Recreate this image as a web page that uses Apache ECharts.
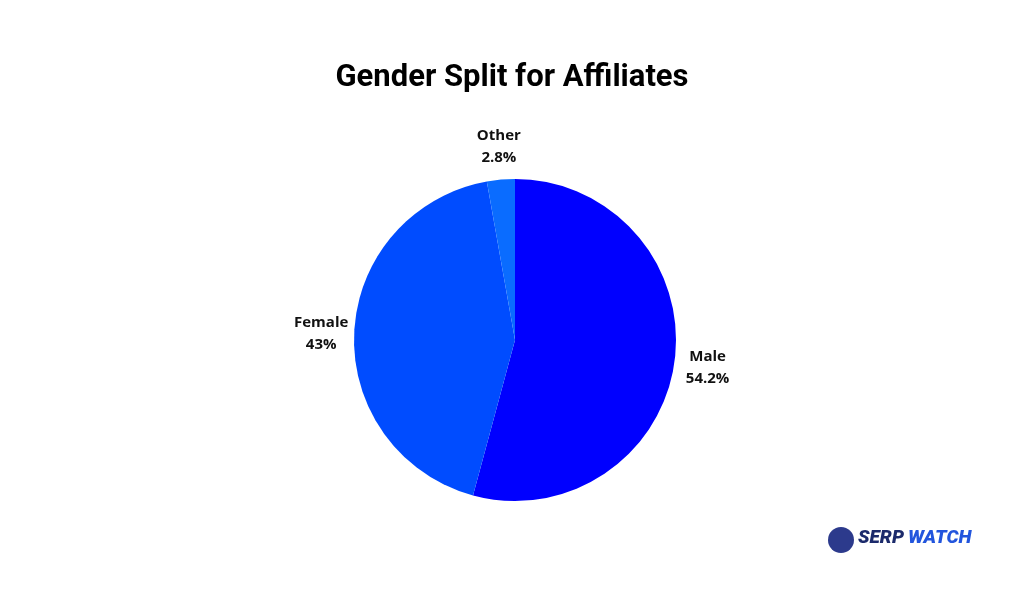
<!DOCTYPE html>
<html><head><meta charset="utf-8">
<script src="https://cdn.jsdelivr.net/npm/echarts@6/dist/echarts.min.js"></script>
<style>html,body{margin:0;background:#fff}#c{width:1024px;height:600px}</style></head>
<body><div id="c"></div>
<script>
const categories = ["Male", "Female", "Other"];
const values = [54.2, 43, 2.8];
const colors = ["#0000ff", "#004cff", "#0a6cff"];
const labelOffsets = [[0, 7], [0, 1], [31, -33]];
const chart = echarts.init(document.getElementById('c'));
const lab = {width: 56, align: 'center', color: '#111', fontFamily: 'Open Sans', fontWeight: 'bold', fontSize: 15, lineHeight: 22};
chart.setOption({
  backgroundColor: '#fff',
  title: {text: 'Gender Split for Affiliates', left: 'center', top: 58,
    textStyle: {fontFamily: 'Roboto', fontWeight: 'bold', fontSize: 31, color: '#000'}},
  series: [{
    type: 'pie', center: [515, 340], radius: 161, startAngle: 90, clockwise: true,
    animation: false,
    data: categories.map((n, i) => ({name: n, value: values[i], itemStyle: {color: colors[i]}, label: {offset: labelOffsets[i]}})),
    label: {show: true, position: 'outside', formatter: '{a|{b}}\n{a|{c}%}', rich: {a: lab}},
    labelLine: {show: false, length: 0, length2: 0},
    labelLayout: {hideOverlap: false, moveOverlap: null}
  }],
  graphic: [
    {type: 'circle', shape: {cx: 841, cy: 540, r: 13}, style: {fill: '#2c3a8c'}},
    {type: 'text', left: 858, top: 529, style: {text: 'SERP', font: 'italic 900 19px Roboto', fill: '#1b2a6b'}},
    {type: 'text', left: 908, top: 529, style: {text: 'WATCH', font: 'italic 900 19px Roboto', fill: '#2255dd'}}
  ]
});
</script></body></html>
